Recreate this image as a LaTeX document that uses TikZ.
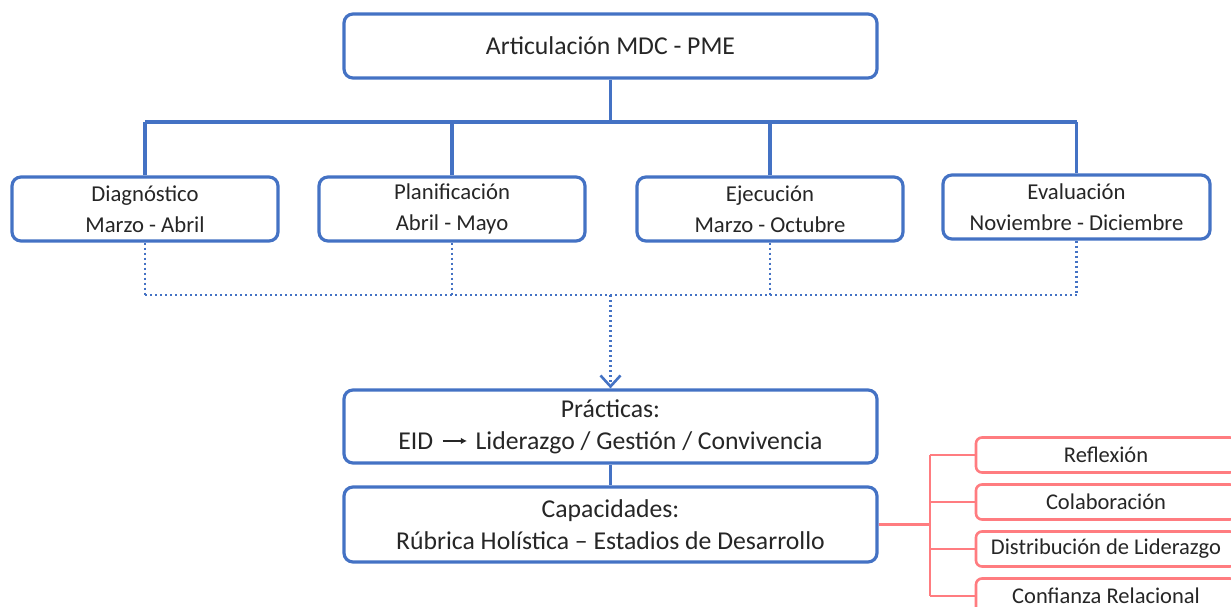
\documentclass[tikz,border=0pt]{standalone}
\usepackage{fontspec}
\setmainfont{Carlito}
\usetikzlibrary{arrows.meta}
\definecolor{bl}{HTML}{4472C4}
\definecolor{rd}{HTML}{FF7C80}
\definecolor{tx}{HTML}{262626}
\begin{document}
\begin{tikzpicture}[x=1pt,y=-1pt,
  box/.style={draw=bl, line width=3.2pt, rounded corners=9pt, fill=white, text=tx, align=center, inner sep=0pt},
  phase/.style={box, minimum width=266pt, minimum height=64pt, font=\fontsize{22.7}{31}\selectfont},
  big/.style={box, minimum width=533pt, font=\fontsize{25.7}{32}\selectfont},
  sub/.style={draw=rd, line width=2.6pt, rounded corners=6pt, fill=white, minimum width=260pt, minimum height=35pt, inner sep=0pt, text=tx, font=\fontsize{22.5}{25}\selectfont},
  conn/.style={draw=bl, line width=3.2pt},
  dotl/.style={draw=bl, line width=2.8pt, dash pattern=on 2.4pt off 2.6pt},
  rconn/.style={draw=rd, line width=2.6pt}]
\useasboundingbox (0,0) rectangle (1231,607);
\clip (0,0) rectangle (1231,607);
% nodes
\node[big, minimum height=64pt] (title) at (610.5,46) {Articulación MDC - PME};
\node[phase] (diag) at (145,209) {Diagnóstico\\Marzo - Abril};
\node[phase] (plan) at (452,209) {Planificación\\Abril - Mayo};
\node[phase] (ejec) at (770,209) {Ejecución\\Marzo - Octubre};
\node[phase, minimum width=267pt] (eval) at (1076.5,207) {Evaluación\\Noviembre - Diciembre};
\node[big, minimum height=73pt] (prac) at (610.5,426.5) {Prácticas:\\EID\hspace{9pt}\tikz[baseline=-0.32em]{\draw[draw=tx,fill=tx,line width=1.4pt,-{Latex[length=6pt,width=6.5pt]}] (0pt,0pt)--(24pt,0pt);}\hspace{8pt}Liderazgo / Gestión / Convivencia};
\node[big, minimum height=75pt] (cap) at (610.5,524.5) {Capacidades:\\Rúbrica Holística – Estadios de Desarrollo};
\node[sub] (r1) at (1106,455) {Reflexión};
\node[sub] (r2) at (1106,502) {Colaboración};
\node[sub] (r3) at (1106,549) {Distribución de Liderazgo};
\node[sub] (r4) at (1106,596) {Confianza Relacional};
% solid tree
\coordinate (bus) at (0,122);
\draw[conn] (title.south) -- (title.south |- bus);
\draw[conn] (diag.north |- bus) -- (eval.north |- bus);
\foreach \n in {diag,plan,ejec,eval} \draw[conn] (\n.north) -- (\n.north |- bus);
% dotted collector
\coordinate (dy) at (0,295);
\draw[dotl] (diag.south |- dy) -- (eval.south |- dy);
\foreach \n in {diag,plan,ejec,eval} \draw[dotl] (\n.south) -- (\n.south |- dy);
\draw[dotl, -{Straight Barb[length=11pt,width=20pt,line width=2.6pt]}] (prac.north |- dy) -- (prac.north);
% practicas to capacidades
\draw[conn] (prac.south) -- (cap.north);
% red bracket
\coordinate (rv) at (930,0);
\draw[rconn] (cap.east) -- (cap.east -| rv);
\draw[rconn] (r1.west -| rv) -- (r4.west -| rv);
\foreach \n in {r1,r2,r3,r4} \draw[rconn] (\n.west -| rv) -- (\n.west);
\end{tikzpicture}
\end{document}
